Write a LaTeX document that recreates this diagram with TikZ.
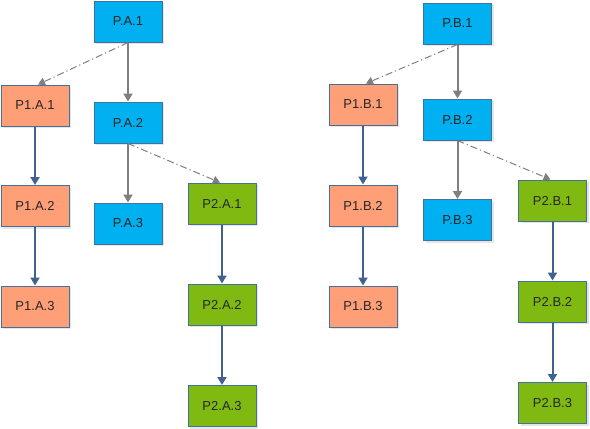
\documentclass[tikz,border=0pt]{standalone}
\usepackage{fontspec}
\setmainfont{Liberation Sans}
\usetikzlibrary{arrows.meta,shadows}
\definecolor{cblue}{HTML}{00B0F0}
\definecolor{csalmon}{HTML}{FF9F78}
\definecolor{cgreen}{HTML}{7FB912}
\definecolor{cborder}{HTML}{41719C}
\definecolor{ctext}{HTML}{262626}
\definecolor{cgray}{HTML}{7F7F7F}
\definecolor{carrowblue}{HTML}{41628F}
\tikzset{
  box/.style={draw=cborder, line width=1pt, minimum width=68pt, minimum height=41pt,
    inner sep=0pt, text=ctext, font=\fontsize{13}{15}\selectfont,
    drop shadow={shadow xshift=2pt, shadow yshift=-2pt, fill=black!10, opacity=1}},
  bbox/.style={box, fill=cblue},
  sbox/.style={box, fill=csalmon},
  gbox/.style={box, fill=cgreen},
  garrow/.style={draw=cgray, line width=2pt, -{Triangle[width=9pt,length=8pt]}},
  barrow/.style={draw=carrowblue, line width=2pt, -{Triangle[width=9pt,length=8pt]}},
  darrow/.style={draw=cgray, line width=1pt, dash pattern=on 7pt off 3pt on 1.2pt off 3pt,
    -{Triangle[width=8pt,length=7pt]}},
}
\begin{document}
\begin{tikzpicture}[x=1pt,y=-1pt]
\useasboundingbox (0,0) rectangle (590,429);
% left
\node[bbox] (PA1) at (128,21.5) {P.A.1};
\node[bbox] (PA2) at (128,122.5) {P.A.2};
\node[bbox] (PA3) at (128,223.5) {P.A.3};
\node[sbox] (P1A1) at (35,105.5) {P1.A.1};
\node[sbox] (P1A2) at (35,206) {P1.A.2};
\node[sbox] (P1A3) at (35,306.5) {P1.A.3};
\node[gbox] (P2A1) at (222,203.5) {P2.A.1};
\node[gbox] (P2A2) at (222,304.5) {P2.A.2};
\node[gbox] (P2A3) at (222,406) {P2.A.3};
% right
\node[bbox] (PB1) at (457.5,23.5) {P.B.1};
\node[bbox] (PB2) at (457.5,119.5) {P.B.2};
\node[bbox] (PB3) at (457.5,220) {P.B.3};
\node[sbox] (P1B1) at (363,104.5) {P1.B.1};
\node[sbox] (P1B2) at (363,205.5) {P1.B.2};
\node[sbox] (P1B3) at (363,306.5) {P1.B.3};
\node[gbox] (P2B1) at (552.5,200.5) {P2.B.1};
\node[gbox] (P2B2) at (552.5,301.5) {P2.B.2};
\node[gbox] (P2B3) at (552.5,403) {P2.B.3};
% arrows left
\draw[garrow] (PA1) -- (PA2);
\draw[garrow] (PA2) -- (PA3);
\draw[barrow] (P1A1) -- (P1A2);
\draw[barrow] (P1A2) -- (P1A3);
\draw[barrow] (P2A1) -- (P2A2);
\draw[barrow] (P2A2) -- (P2A3);
\draw[darrow] (PA1.south) -- ([xshift=3pt]P1A1.north);
\draw[darrow] (PA2.south) -- ([xshift=-2pt]P2A1.north);
% arrows right
\draw[garrow] (PB1) -- (PB2);
\draw[garrow] (PB2) -- (PB3);
\draw[barrow] (P1B1) -- (P1B2);
\draw[barrow] (P1B2) -- (P1B3);
\draw[barrow] (P2B1) -- (P2B2);
\draw[barrow] (P2B2) -- (P2B3);
\draw[darrow] (PB1.south) -- ([xshift=3pt]P1B1.north);
\draw[darrow] (PB2.south) -- ([xshift=-2pt]P2B1.north);
\end{tikzpicture}
\end{document}
